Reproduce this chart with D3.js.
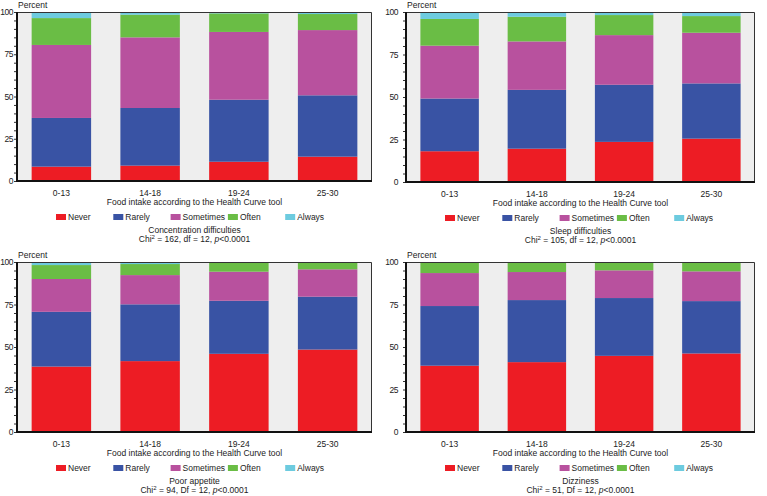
<!DOCTYPE html>
<html>
<head>
<meta charset="utf-8">
<script src="https://cdn.jsdelivr.net/npm/d3@7"></script>
<style>
  body { margin: 0; background: white; }
  svg text { font-family: "Liberation Sans", Arial, sans-serif; fill: #222; }
</style>
</head>
<body>
<div id="viz-container"></div>
<script>
let svgWidth = 767;
let svgHeight = 496;

// data
let categories = ["0-13", "14-18", "19-24", "25-30"];
let responses = ["Never", "Rarely", "Sometimes", "Often", "Always"];
let responseColors = ["#ed1c24", "#3953a4", "#b8519e", "#6abd45", "#6dcbdf"];
let yTicks = [0, 25, 50, 75, 100];

// rows follow responses order, columns follow categories
let concentration = [
  [8.5, 9.1, 11.4, 14.4],
  [28.8, 34.1, 36.7, 36.3],
  [43.2, 41.8, 40.1, 38.6],
  [15.9, 13.4, 11.0, 9.5],
  [3.6, 1.6, 0.8, 1.2]
];
let sleep = [
  [18.1, 19.6, 23.6, 25.5],
  [31.0, 34.6, 33.6, 32.5],
  [31.1, 28.5, 29.2, 29.8],
  [15.7, 14.5, 11.8, 9.8],
  [4.1, 2.8, 1.8, 2.4]
];
let appetite = [
  [38.5, 41.7, 46.0, 48.5],
  [32.2, 33.4, 31.2, 31.1],
  [19.3, 17.2, 17.1, 16.1],
  [8.2, 6.5, 5.5, 4.2],
  [1.8, 1.2, 0.2, 0.1]
];
let dizziness = [
  [39.0, 41.1, 44.8, 46.2],
  [35.1, 36.5, 34.0, 30.8],
  [19.4, 16.5, 16.3, 17.5],
  [6.5, 5.9, 4.9, 5.5],
  [0, 0, 0, 0]
];

let titles = ["Concentration difficulties", "Sleep difficulties", "Poor appetite", "Dizziness"];
let chiValues = ["162", "105", "94", "51"];
let dfLabels = ["df", "df", "Df", "Df"];

let fontSize = 8.5;

let panels = [
  {values: concentration, x0: 17, x1: 372, y0: 12, y1: 181, labelGap: 4},
  {values: sleep, x0: 406, x1: 755, y0: 12, y1: 182, labelGap: 8},
  {values: appetite, x0: 17, x1: 372, y0: 262, y1: 432, labelGap: 4},
  {values: dizziness, x0: 406, x1: 755, y0: 262, y1: 432, labelGap: 8}
];

let viz = d3.select("#viz-container")
  .append("svg")
    .attr("width", svgWidth)
    .attr("height", svgHeight)
    .style("background-color", "white");

panels.forEach(function(p, k){
  drawPanel(p, k);
});

function drawPanel(p, k){
  let g = viz.append("g").attr("class", "panel");

  let x = d3.scaleBand()
    .domain(categories)
    .range([p.x0, p.x1])
    .paddingInner(0.33)
    .paddingOuter(0.165);

  let y = d3.scaleLinear()
    .domain([0, 100])
    .range([p.y1, p.y0]);

  // table for d3.stack
  let rows = categories.map(function(c, i){
    let row = {cat: c};
    responses.forEach(function(r, j){ row[r] = p.values[j][i]; });
    return row;
  });
  let series = d3.stack().keys(responses)(rows);

  // plot background
  g.append("rect")
    .attr("x", p.x0)
    .attr("y", p.y0)
    .attr("width", p.x1 - p.x0)
    .attr("height", p.y1 - p.y0)
    .attr("fill", "#eeeeee");

  g.selectAll(".layer").data(series).enter()
    .append("g")
      .attr("class", "layer")
      .attr("fill", function(d, j){ return responseColors[j]; })
    .selectAll("rect").data(function(d){ return d; }).enter()
    .append("rect")
      .attr("x", function(d){ return x(d.data.cat); })
      .attr("y", function(d){ return y(Math.min(d[1], 100)); })
      .attr("width", x.bandwidth())
      .attr("height", function(d){ return Math.max(0, y(d[0]) - y(Math.min(d[1], 100))); });

  // thin top and right border
  g.append("path")
    .attr("d", "M" + p.x0 + "," + (p.y0 + 0.5) + "H" + (p.x1 - 0.5) + "V" + p.y1)
    .attr("fill", "none")
    .attr("stroke", "#333")
    .attr("stroke-width", 1);

  // y axis with minor ticks every 5
  let yAxis = d3.axisLeft(y)
    .tickValues(d3.range(0, 101, 5))
    .tickSize(3)
    .tickFormat("");
  let ya = g.append("g")
    .attr("transform", "translate(" + p.x0 + ",0)")
    .call(yAxis);
  ya.select(".domain").remove();
  ya.selectAll("line").attr("stroke", "#333");

  g.selectAll(".ylab").data(yTicks).enter()
    .append("text")
      .attr("class", "ylab")
      .attr("x", p.x0 - p.labelGap)
      .attr("y", function(d){ return y(d) + 3; })
      .attr("text-anchor", "end")
      .attr("font-size", fontSize)
      .attr("letter-spacing", -0.5)
      .text(function(d){ return d; });

  // thick left and bottom axis lines
  g.append("path")
    .attr("d", "M" + p.x0 + "," + p.y0 + "V" + p.y1 + "H" + p.x1)
    .attr("fill", "none")
    .attr("stroke", "#111")
    .attr("stroke-width", 2);

  g.append("text")
    .attr("x", p.x0 + 1)
    .attr("y", p.y0 - 4)
    .attr("font-size", fontSize)
    .text("Percent");

  // x labels
  g.selectAll(".xlab").data(categories).enter()
    .append("text")
      .attr("class", "xlab")
      .attr("x", function(d){ return x(d) + x.bandwidth() / 2; })
      .attr("y", p.y1 + 15)
      .attr("text-anchor", "middle")
      .attr("font-size", fontSize)
      .text(function(d){ return d; });

  let mid = (p.x0 + p.x1) / 2;
  g.append("text")
    .attr("x", mid)
    .attr("y", p.y1 + 24)
    .attr("text-anchor", "middle")
    .attr("font-size", fontSize)
    .text("Food intake according to the Health Curve tool");

  // legend
  let legend = g.selectAll(".legendItem").data(responses).enter()
    .append("g")
      .attr("class", "legendItem")
      .attr("transform", function(d, j){
        return "translate(" + (p.x0 + 39 + j * 57.3) + "," + (p.y1 + 33) + ")";
      });
  legend.append("rect")
    .attr("width", 10)
    .attr("height", 6)
    .attr("fill", function(d, j){ return responseColors[j]; });
  legend.append("text")
    .attr("x", 12)
    .attr("y", 6)
    .attr("font-size", fontSize)
    .text(function(d){ return d; });

  g.append("text")
    .attr("x", mid)
    .attr("y", p.y1 + 52)
    .attr("text-anchor", "middle")
    .attr("font-size", fontSize)
    .text(titles[k]);

  let chi = g.append("text")
    .attr("x", mid)
    .attr("y", p.y1 + 61)
    .attr("text-anchor", "middle")
    .attr("font-size", fontSize);
  chi.append("tspan").text("Chi");
  chi.append("tspan").attr("dy", -3).attr("font-size", 6).text("2");
  chi.append("tspan").attr("dy", 3).text(" = " + chiValues[k] + ", " + dfLabels[k] + " = 12, ");
  chi.append("tspan").attr("font-style", "italic").text("p");
  chi.append("tspan").text("<0.0001");
}
</script>
</body>
</html>
